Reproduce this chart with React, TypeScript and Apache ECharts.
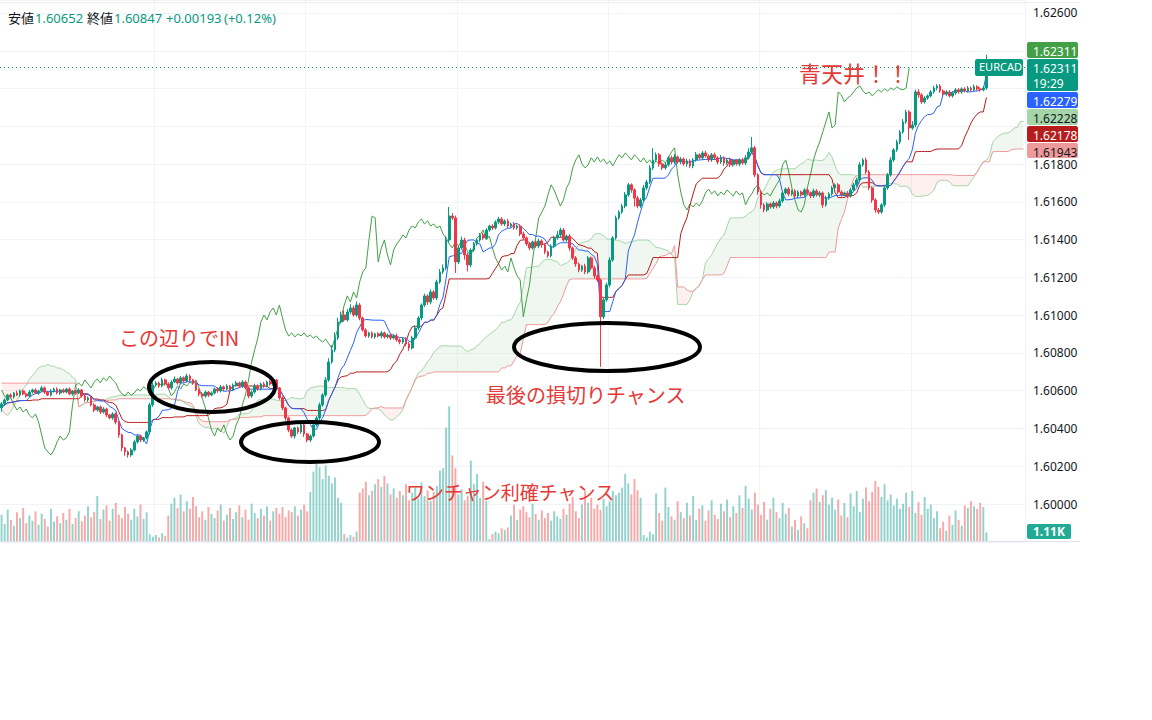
import React, { useEffect, useRef } from "react";
import * as echarts from "echarts";

// ---- Price data (EURCAD) ----
const firstOpen = 1.60509;
const closes = [
  1.60530,1.60551,1.60577,1.60567,1.60588,1.60577,1.60599,1.60583,1.60572,1.60593,
  1.60604,1.60588,1.60599,1.60615,1.60593,1.60577,1.60599,1.60609,1.60588,1.60604,
  1.60593,1.60609,1.60583,1.60599,1.60588,1.60604,1.60572,1.60551,1.60562,1.60525,
  1.60498,1.60514,1.60487,1.60503,1.60472,1.60456,1.60477,1.60434,1.60366,1.60297,
  1.60276,1.60260,1.60286,1.60329,1.60360,1.60339,1.60350,1.60382,1.60525,1.60630,
  1.60641,1.60625,1.60657,1.60636,1.60615,1.60646,1.60662,1.60641,1.60668,1.60652,
  1.60678,1.60657,1.60641,1.60604,1.60583,1.60572,1.60593,1.60577,1.60588,1.60609,
  1.60599,1.60620,1.60609,1.60625,1.60604,1.60630,1.60641,1.60625,1.60646,1.60615,
  1.60572,1.60593,1.60625,1.60609,1.60636,1.60625,1.60646,1.60636,1.60657,1.60615,
  1.60562,1.60509,1.60456,1.60392,1.60360,1.60403,1.60382,1.60419,1.60371,1.60339,
  1.60360,1.60419,1.60456,1.60525,1.60577,1.60657,1.60752,1.60816,1.60879,1.60964,
  1.61001,1.60975,1.61017,1.61038,1.61001,1.61054,1.60985,1.60922,1.60890,1.60906,
  1.60885,1.60901,1.60890,1.60906,1.60885,1.60895,1.60879,1.60890,1.60869,1.60858,
  1.60874,1.60848,1.60826,1.60879,1.60932,1.60985,1.61054,1.61102,1.61070,1.61123,
  1.61091,1.61176,1.61229,1.61250,1.61398,1.61525,1.61515,1.61282,1.61356,1.61398,
  1.61319,1.61266,1.61345,1.61377,1.61398,1.61425,1.61409,1.61451,1.61472,1.61462,
  1.61493,1.61509,1.61483,1.61499,1.61472,1.61483,1.61462,1.61472,1.61430,1.61409,
  1.61377,1.61356,1.61388,1.61366,1.61393,1.61372,1.61335,1.61314,1.61366,1.61409,
  1.61425,1.61451,1.61398,1.61419,1.61356,1.61303,1.61271,1.61239,1.61260,1.61229,
  1.61303,1.61250,1.61208,1.61186,1.60991,1.61081,1.61160,1.61292,1.61409,1.61515,
  1.61546,1.61578,1.61637,1.61690,1.61663,1.61620,1.61578,1.61610,1.61674,1.61705,
  1.61780,1.61822,1.61849,1.61801,1.61780,1.61796,1.61833,1.61811,1.61838,1.61811,
  1.61827,1.61801,1.61817,1.61790,1.61822,1.61849,1.61833,1.61859,1.61843,1.61822,
  1.61849,1.61833,1.61811,1.61833,1.61806,1.61822,1.61796,1.61817,1.61801,1.61822,
  1.61806,1.61833,1.61864,1.61886,1.61743,1.61652,1.61584,1.61557,1.61589,1.61573,
  1.61594,1.61578,1.61605,1.61647,1.61668,1.61642,1.61658,1.61631,1.61652,1.61637,
  1.61663,1.61647,1.61631,1.61658,1.61637,1.61647,1.61584,1.61620,1.61642,1.61674,
  1.61690,1.61652,1.61637,1.61647,1.61631,1.61663,1.61690,1.61716,1.61796,1.61822,
  1.61758,1.61674,1.61610,1.61557,1.61546,1.61584,1.61674,1.61743,1.61822,1.61875,
  1.61917,1.61970,1.62023,1.62076,1.61991,1.62007,1.62182,1.62166,1.62129,1.62150,
  1.62161,1.62182,1.62203,1.62214,1.62187,1.62171,1.62182,1.62161,1.62177,1.62193,
  1.62182,1.62198,1.62187,1.62203,1.62193,1.62209,1.62198,1.62193,1.62203,1.62311,
];
// wick lengths in 1/100000 (pipettes)
const wickUp = [
  10,8,6,9,5,12,7,8,6,10, 7,9,5,11,8,6,10,7,9,6, 8,6,9,5,7,10,6,12,8,7, 9,6,8,10,7,5,9,8,6,7,
  5,8,10,12,9,7,6,8,12,15, 10,8,12,7,9,10,14,6,9,8, 12,8,6,9,7,10,8,6,9,7, 8,10,7,9,6,8,11,7,10,8,
  6,9,12,8,7,10,8,9,7,6, 5,8,6,7,9,6,8,7,10,6, 8,10,9,12,10,15,20,25,30,22, 18,25,15,20,12,18,10,8,9,7,
  8,6,9,10,7,8,6,9,12,8, 7,9,10,12,15,10,8,12,9,14, 10,12,15,18,20,48,15,12,10,18, 12,10,9,11,8,10,12,9,7,10,
  9,12,10,8,11,7,10,8,9,12, 8,10,7,9,12,8,10,7,9,11, 20,12,10,8,9,7,10,8,6,12, 10,8,12,7,8,10,12,15,10,12,
  10,12,15,10,8,9,12,10,15,12, 14,62,12,10,8,14,10,12,15,8, 10,8,12,9,10,15,8,10,12,9, 10,12,8,15,9,10,12,8,10,9,
  12,15,20,57,10,8,12,9,10,8, 10,8,12,9,8,10,7,9,10,8, 9,10,8,12,9,10,8,12,9,10, 8,10,9,7,10,8,12,10,15,10,
  12,10,8,9,10,8,12,10,15,10, 12,10,15,12,10,20,12,15,10,9, 8,10,12,9,10,8,9,10,8,9, 10,8,9,10,8,12,9,8,10,67,
];
const wickDown = [
  20,10,8,6,9,5,10,7,8,6, 8,6,9,7,10,6,8,9,7,10, 6,8,7,9,10,6,8,9,10,8, 12,9,10,8,11,7,10,12,15,18,
  20,14,10,8,9,12,10,8,15,10, 8,10,7,9,8,10,6,9,7,10, 8,9,10,7,12,8,9,10,7,8, 10,8,9,7,10,6,8,9,10,8,
  12,10,8,9,7,10,8,9,10,8, 10,12,15,12,10,14,12,10,15,12, 10,8,9,12,10,8,10,9,12,10, 8,10,9,12,8,10,12,9,8,10,
  9,10,8,12,9,8,10,7,9,12, 10,12,15,8,9,10,12,10,15,12, 10,12,9,10,12,15,10,58,12,10, 25,35,12,10,9,12,10,8,9,10,
  8,10,9,12,10,8,9,10,12,9, 10,12,9,10,12,15,12,10,9,12, 10,12,9,12,14,10,15,12,10,12, 10,12,15,10,265,12,10,12,10,9,
  10,9,12,10,15,45,12,10,9,12, 10,12,10,15,12,10,9,12,10,9, 12,10,15,10,12,9,10,12,9,10, 10,9,12,10,15,9,12,10,9,12,
  10,12,9,10,12,15,20,12,10,9, 10,12,9,10,8,12,10,9,12,10, 9,10,12,10,9,12,15,10,9,10, 12,10,9,8,10,9,12,10,12,10,
  10,12,15,15,10,9,12,10,9,10, 10,12,9,10,63,10,12,15,10,9, 10,8,9,12,10,9,10,8,9,10, 9,10,8,9,10,8,9,10,8,10,
];
// volume in thousands
const volumes = [
  3.2,2.1,3.8,2.6,1.9,3.5,2.8,4.0,2.2,3.1, 2.5,3.6,2.0,3.3,2.7,1.8,3.9,2.4,3.0,2.2,
  3.4,2.6,3.9,2.1,2.8,3.6,2.4,3.1,4.2,2.9, 3.5,5.4,2.7,3.8,4.3,2.5,3.9,4.6,3.2,2.8,
  4.1,3.3,2.6,3.9,3.0,4.4,2.7,3.5,0.9,0.6, 0.8,0.5,1.0,0.7,3.1,4.5,5.2,4.0,5.6,3.6,
  4.8,3.9,5.3,4.2,2.9,3.6,2.6,4.1,3.3,2.8, 3.7,4.4,2.5,3.2,4.0,2.7,3.5,4.3,2.9,3.8,
  2.6,4.5,3.4,2.8,3.9,3.1,4.2,2.5,3.6,4.0, 3.3,4.1,2.9,3.7,3.5,4.2,3.1,3.8,4.4,3.6,
  5.9,8.3,9.2,8.8,7.4,9.0,7.8,6.9,7.6,5.2, 4.6,0.9,0.5,0.8,0.6,1.2,5.8,6.3,7.1,5.5,
  6.0,6.8,7.4,6.5,7.8,6.9,5.6,6.3,5.2,6.0, 5.5,6.8,4.9,5.8,6.4,5.1,7.0,5.4,6.1,4.8,
  5.9,6.6,8.4,8.7,13.5,16.0,10.2,8.7,5.6,6.2, 4.9,5.4,9.6,6.8,8.0,5.2,7.1,4.8,0.3,0.9,
  1.2,1.0,1.6,1.4,1.7,3.1,4.4,2.6,3.8,4.2, 3.5,2.9,4.5,3.3,2.6,3.7,2.8,3.4,2.5,3.6,
  3.0,2.7,3.9,3.2,4.5,5.3,3.6,2.8,4.4,6.0, 4.6,5.2,3.9,4.4,3.8,5.1,4.2,4.8,6.0,5.5,
  5.8,6.4,8.0,6.9,5.6,7.4,6.1,5.2,0.8,0.5, 1.2,0.9,5.7,3.4,2.5,6.4,4.1,3.0,2.6,4.8,
  3.5,2.8,4.6,3.1,5.4,2.6,3.9,4.3,2.5,3.7, 4.9,3.2,2.7,4.5,3.6,5.0,2.9,4.2,3.4,5.5,
  4.0,6.6,5.1,3.8,5.8,4.4,3.2,4.7,2.6,3.9, 5.2,3.5,2.8,4.6,3.3,4.0,1.8,2.6,1.4,3.0,
  2.2,1.6,4.9,5.8,6.3,4.7,5.5,6.1,4.4,5.2, 3.8,5.0,3.1,4.6,2.9,5.7,4.2,6.0,3.5,5.1,
  6.4,4.8,5.9,7.2,6.5,5.3,6.8,4.9,5.6,4.3, 5.1,3.9,4.5,5.8,4.1,6.0,3.4,4.7,3.2,5.3,
  3.9,4.4,2.8,3.6,1.6,2.4,1.3,3.1,2.0,3.7, 2.6,1.9,4.3,4.0,4.8,4.2,3.9,4.6,4.1,1.11,
];
// leading spans shown before the first bar's own projection (first 25 slots)
const preLeadA = [1.6050,1.6048,1.6047,1.6049,1.6052,1.6055,1.6058,1.6061,1.6063,1.6066,1.6068,1.6070,1.6072,1.6073,1.6073,1.6074,1.6073,1.6073,1.6072,1.6072,1.6071,1.6070,1.6069,1.6067,1.6066];
const preLeadB = [1.6064,1.6064,1.6064,1.6064,1.6064,1.6064,1.6064,1.6064,1.6064,1.6064,1.6064,1.6064,1.6064,1.6064,1.6064,1.6064,1.6064,1.6064,1.6064,1.6064,1.6064,1.6064,1.6064,1.6064,1.6064];

const priceTickMin = 1.598;
const priceTickStep = 0.002;
const priceTop = 1.626688;
const lastPrice = 1.62311;
// tick labels covered by the price tags on the right in the reference
const coveredTicks = ["1.62400", "1.62200", "1.62000"];

const headerItems = [
  { text: "安値", x: 8, color: "#131722" },
  { text: "1.60652", x: 35, color: "#089981" },
  { text: "終値", x: 87, color: "#131722" },
  { text: "1.60847", x: 114, color: "#089981" },
  { text: "+0.00193", x: 166, color: "#089981" },
  { text: "(+0.12%)", x: 224, color: "#089981" },
];
const axisBoxes = [
  { text: "1.62311", bg: "#43a047", fg: "#ffffff", y: 42, h: 16 },
  { text: "1.62311\n19:29", bg: "#089981", fg: "#ffffff", y: 59, h: 32 },
  { text: "1.62279", bg: "#2962ff", fg: "#ffffff", y: 92, h: 16 },
  { text: "1.62228", bg: "#a5d6a7", fg: "#131722", y: 109, h: 16 },
  { text: "1.62178", bg: "#b71c1c", fg: "#ffffff", y: 126, h: 16 },
  { text: "1.61943", bg: "#ef9a9a", fg: "#131722", y: 143, h: 15 },
];
const notes = [
  { text: "青天井！！", x: 799, y: 61, size: 22 },
  { text: "この辺りでIN", x: 119, y: 327, size: 20 },
  { text: "最後の損切りチャンス", x: 486, y: 384, size: 20 },
  { text: "ワンチャン利確チャンス", x: 406, y: 482, size: 19 },
];
const rings = [
  { cx: 212, cy: 387, rx: 63, ry: 25 },
  { cx: 310, cy: 442, rx: 69, ry: 20 },
  { cx: 607, cy: 347, rx: 93, ry: 24 },
];

const TOTAL_SLOTS = 332;
const SHIFT = 25;

export default function App() {
  const ref = useRef<HTMLDivElement>(null);
  useEffect(() => {
    const chart = echarts.init(ref.current!, null, { renderer: "svg" });
    const n = closes.length;
    const opens = closes.map((c, i) => (i === 0 ? firstOpen : closes[i - 1]));
    const highs = closes.map((c, i) => Math.max(opens[i], c) + wickUp[i] / 1e5);
    const lows = closes.map((c, i) => Math.min(opens[i], c) - wickDown[i] / 1e5);
    const mid = (p: number, i: number) => {
      let h = -Infinity, l = Infinity;
      for (let j = Math.max(0, i - p + 1); j <= i; j++) {
        if (highs[j] > h) h = highs[j];
        if (lows[j] < l) l = lows[j];
      }
      return (h + l) / 2;
    };
    const slots = Array.from({ length: TOTAL_SLOTS }, (_, i) => String(i));
    const tenkan: (number | null)[] = closes.map((_, i) => mid(9, i));
    const kijun: (number | null)[] = closes.map((_, i) => mid(26, i));
    const leadA: (number | null)[] = new Array(TOTAL_SLOTS).fill(null);
    const leadB: (number | null)[] = new Array(TOTAL_SLOTS).fill(null);
    for (let k = 0; k < SHIFT; k++) { leadA[k] = preLeadA[k]; leadB[k] = preLeadB[k]; }
    for (let i = 0; i < n; i++) {
      const s = i + SHIFT;
      if (s < TOTAL_SLOTS) {
        leadA[s] = ((tenkan[i] as number) + (kijun[i] as number)) / 2;
        leadB[s] = mid(52, i);
      }
    }
    const chikou: (number | null)[] = new Array(TOTAL_SLOTS).fill(null);
    for (let i = SHIFT; i < n; i++) chikou[i - SHIFT] = closes[i];
    const base = leadA.map((a, i) => (a == null || leadB[i] == null ? null : Math.min(a, leadB[i] as number)));
    const greenBand = leadA.map((a, i) => (a == null || leadB[i] == null ? null : Math.max(a - (leadB[i] as number), 0)));
    const redBand = leadA.map((a, i) => (a == null || leadB[i] == null ? null : Math.max((leadB[i] as number) - a, 0)));

    const candles = closes.map((c, i) => [opens[i], c, lows[i], highs[i]]);
    const vols = volumes.map((v, i) => ({
      value: v,
      itemStyle: { color: closes[i] >= opens[i] ? "rgba(38,166,154,0.5)" : "rgba(239,83,80,0.5)" },
    }));

    const thin = (name: string, data: any[], color: string, extra: any = {}) => ({
      name, type: "line", data, symbol: "none", showSymbol: false, z: 3,
      lineStyle: { color, width: 1 }, silent: true, connectNulls: false, ...extra,
    });

    const graphic: any[] = [];
    graphic.push({ type: "line", shape: { x1: 0, y1: 541.5, x2: 1080, y2: 541.5 }, style: { stroke: "#e0e3eb", lineWidth: 1 }, z: 50, silent: true });
    graphic.push({ type: "line", shape: { x1: 0, y1: 2.5, x2: 1080, y2: 2.5 }, style: { stroke: "#eceef2", lineWidth: 1 }, z: 50, silent: true });
    headerItems.forEach((h) => graphic.push({
      type: "text", x: h.x, y: 11, z: 100, silent: true,
      style: { text: h.text, fill: h.color, font: '13px "Noto Sans", "Noto Sans CJK JP", sans-serif' },
    }));
    axisBoxes.forEach((b) => {
      graphic.push({ type: "rect", shape: { x: 1027, y: b.y, width: 51, height: b.h, r: 2 }, style: { fill: b.bg }, z: 100, silent: true });
      graphic.push({
        type: "text", x: 1033, y: b.y + 1.5, z: 101, silent: true,
        style: { text: b.text, fill: b.fg, font: '12px "Noto Sans", sans-serif', lineHeight: 15 },
      });
    });
    graphic.push({ type: "rect", shape: { x: 1027, y: 524, width: 44, height: 15, r: 2 }, style: { fill: "#22ab94" }, z: 100, silent: true });
    graphic.push({ type: "text", x: 1033, y: 525, z: 101, silent: true, style: { text: "1.11K", fill: "#ffffff", font: 'bold 12px "Noto Sans", sans-serif' } });
    graphic.push({ type: "rect", shape: { x: 975, y: 59, width: 48, height: 17, r: 2 }, style: { fill: "#089981" }, z: 100, silent: true });
    graphic.push({ type: "text", x: 979, y: 61, z: 101, silent: true, style: { text: "EURCAD", fill: "#ffffff", font: '11px "Noto Sans", sans-serif' } });
    rings.forEach((r) => graphic.push({
      type: "ellipse", shape: { cx: r.cx, cy: r.cy, rx: r.rx, ry: r.ry }, z: 110, silent: true,
      style: { fill: "none", stroke: "#000000", lineWidth: 4 },
    }));
    notes.forEach((t) => graphic.push({
      type: "text", x: t.x, y: t.y, z: 120, silent: true,
      style: { text: t.text, fill: "#e53935", font: `${t.size}px "Noto Sans CJK JP", sans-serif` },
    }));

    chart.setOption({
      animation: false,
      textStyle: { fontFamily: '"Noto Sans", sans-serif' },
      grid: { left: 0, right: 127, top: 0, bottom: 178.2, containLabel: false },
      xAxis: {
        type: "category", data: slots, boundaryGap: true,
        axisLine: { show: false }, axisTick: { show: false }, axisLabel: { show: false },
        splitLine: { show: true, interval: (i: number) => i > 1 && i % 49 === 1, lineStyle: { color: "#f0f3fa", width: 1 } },
      },
      yAxis: [
        {
          type: "value", position: "right", min: priceTickMin, max: priceTop, interval: priceTickStep,
          axisLine: { show: false }, axisTick: { show: false },
          axisLabel: {
            color: "#131722", fontSize: 12, margin: 8, showMinLabel: false, showMaxLabel: false,
            formatter: (v: number) => {
              const s = v.toFixed(5);
              return coveredTicks.indexOf(s) >= 0 ? "" : s;
            },
          },
          splitLine: { lineStyle: { color: "#f0f3fa", width: 1 } },
        },
        { type: "value", min: 0, max: 64, show: false, splitLine: { show: false } },
      ],
      series: [
        { name: "Volume", type: "bar", yAxisIndex: 1, data: vols, barWidth: "62%", silent: true, z: 1 },
        { name: "baseG", type: "line", stack: "g", data: base, symbol: "none", lineStyle: { width: 0, opacity: 0 }, silent: true, z: 2 },
        { name: "cloudG", type: "line", stack: "g", data: greenBand, symbol: "none", lineStyle: { width: 0, opacity: 0 }, areaStyle: { color: "rgba(67,160,71,0.12)" }, silent: true, z: 2 },
        { name: "baseR", type: "line", stack: "r", data: base, symbol: "none", lineStyle: { width: 0, opacity: 0 }, silent: true, z: 2 },
        { name: "cloudR", type: "line", stack: "r", data: redBand, symbol: "none", lineStyle: { width: 0, opacity: 0 }, areaStyle: { color: "rgba(244,67,54,0.12)" }, silent: true, z: 2 },
        thin("Leading Span A", leadA, "#a5d6a7"),
        thin("Leading Span B", leadB, "#ef9a9a"),
        thin("Lagging Span", chikou, "#43a047"),
        thin("Base Line", kijun, "#b71c1c"),
        thin("Conversion Line", tenkan, "#2962ff", {
          markLine: {
            silent: true, symbol: ["none", "none"], label: { show: false }, precision: 5,
            lineStyle: { color: "#089981", type: [1, 3], width: 1 },
            data: [{ yAxis: lastPrice }],
          },
        }),
        {
          name: "EURCAD", type: "candlestick", data: candles, barWidth: "72%", z: 5, silent: true,
          itemStyle: { color: "#089981", color0: "#f23645", borderColor: "#089981", borderColor0: "#f23645", borderWidth: 1 },
        },
      ],
      graphic,
    });
    return () => chart.dispose();
  }, []);
  return <div ref={ref} style={{ position: "fixed", left: 0, top: 0, width: 1152, height: 720, background: "#ffffff" }} />;
}
